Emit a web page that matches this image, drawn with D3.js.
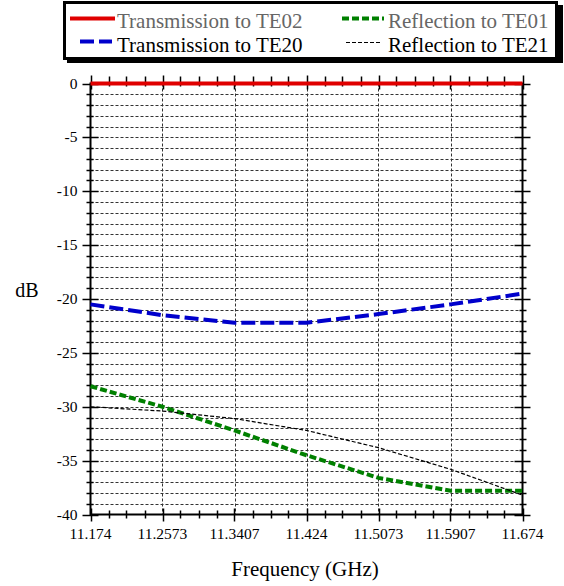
<!DOCTYPE html>
<html><head><meta charset="utf-8">
<script src="https://cdn.jsdelivr.net/npm/d3@7"></script>
<style>body{margin:0;background:#fff}svg{display:block}</style>
</head><body>
<script>
const freqs = [11.174, 11.2573, 11.3407, 11.424, 11.5073, 11.5907, 11.674];
const xTickLabels = ["11.174","11.2573","11.3407","11.424","11.5073","11.5907","11.674"];
const yTicks = [0,-5,-10,-15,-20,-25,-30,-35,-40];
const transTE02 = [0, 0, 0, 0, 0, 0, 0];
const transTE20 = [-20.5, -21.5, -22.2, -22.2, -21.4, -20.5, -19.5];
const reflTE01 = [-28.1, -30.0, -32.2, -34.5, -36.6, -37.8, -37.8];
const reflTE21 = [-30.0, -30.4, -31.1, -32.2, -33.8, -35.8, -38.2];
const seriesNames = ["Transmission to TE02","Reflection to TE01","Transmission to TE20","Reflection to TE21"];

const W=564,H=586;
const svg=d3.select("body").append("svg").attr("width",W).attr("height",H);
const x=d3.scaleLinear().domain([11.174,11.674]).range([90.5,522.5]);
const y=d3.scaleLinear().domain([-40,0]).range([514.5,83.5]);
const L=x.range()[0],R=x.range()[1],T=y.range()[1],B=y.range()[0];

// grid
const g=svg.append("g").attr("stroke","#333").attr("stroke-width",1).attr("stroke-dasharray","3,2");
for(let v=-39;v<=-1;v++){
  const yy=Math.round(y(v))+0.5;
  g.append("line").attr("x1",L).attr("x2",R).attr("y1",yy).attr("y2",yy);
}
freqs.slice(1,-1).forEach(f=>{
  const xx=Math.round(x(f))+0.5;
  g.append("line").attr("x1",xx).attr("x2",xx).attr("y1",T).attr("y2",B);
});

// frame
svg.append("rect").attr("x",L).attr("y",T).attr("width",R-L).attr("height",B-T)
  .attr("fill","none").attr("stroke","#000").attr("stroke-width",2);

// ticks
const tk=svg.append("g").attr("stroke","#000").attr("stroke-width",1.5);
for(let v=-40;v<=0;v++){
  const major=v%5===0, yy=Math.round(y(v))+0.5;
  tk.append("line").attr("x1",L-(major?8:4)).attr("x2",L+(major?8:3)).attr("y1",yy).attr("y2",yy);
  tk.append("line").attr("x1",R-(major?8:3)).attr("x2",R+(major?8:4)).attr("y1",yy).attr("y2",yy);
}
const step=(11.674-11.174)/24;
for(let i=0;i<=24;i++){
  const f=11.174+i*step, major=i%4===0, xx=Math.round(x(f))+0.5;
  tk.append("line").attr("x1",xx).attr("x2",xx).attr("y1",B-(major?6:4)).attr("y2",B+(major?7:4));
  tk.append("line").attr("x1",xx).attr("x2",xx).attr("y1",T-(major?8:7)).attr("y2",T+(major?6:3));
}

// tick labels
svg.append("g").selectAll("text").data(yTicks).join("text")
  .attr("x",77.5).attr("y",d=>y(d)+5).attr("text-anchor","end")
  .attr("font-size",15.5).text(d=>d);
svg.append("g").selectAll("text").data(freqs).join("text")
  .attr("x",d=>x(d)).attr("y",539).attr("text-anchor","middle")
  .attr("font-size",15.5).text((d,i)=>xTickLabels[i]);

svg.append("text").attr("x",305).attr("y",576).attr("text-anchor","middle")
  .attr("font-size",21).text("Frequency (GHz)");
svg.append("text").attr("x",27).attr("y",297).attr("text-anchor","middle")
  .attr("font-size",20).text("dB");

// lines
const line=d3.line().x((d,i)=>x(freqs[i])).y(d=>y(d));
const styles=[
  {data:transTE02,color:"#e00000",w:4,dash:null},
  {data:reflTE01,color:"#008000",w:4,dash:"7,3"},
  {data:transTE20,color:"#0000cc",w:4,dash:"14,5"},
  {data:reflTE21,color:"#000000",w:1.2,dash:"4,2"}
];
const plot=svg.append("g");
[styles[1],styles[2],styles[3],styles[0]].forEach(s=>{
  plot.append("path").datum(s.data).attr("d",line).attr("fill","none")
   .attr("stroke",s.color).attr("stroke-width",s.w).attr("stroke-dasharray",s.dash);
});

// legend
const lg=svg.append("g");
lg.append("rect").attr("x",67).attr("y",5).attr("width",496).attr("height",58).attr("fill","#000");
lg.append("rect").attr("x",64.5).attr("y",2.5).attr("width",492).attr("height",56).attr("fill","#fff").attr("stroke","#000").attr("stroke-width",3);
const items=[
  {s:styles[0],x1:70,x2:115,tx:117,ty:28,ly:18.5,c:"#666"},
  {s:styles[1],x1:342,x2:384,tx:388,ty:28,ly:18.5,c:"#666"},
  {s:styles[2],x1:80,x2:112,tx:117,ty:51.5,ly:41.5,c:"#000"},
  {s:styles[3],x1:346,x2:382,tx:388,ty:51.5,ly:42.5,c:"#000"}
];
items.forEach((it,i)=>{
  lg.append("line").attr("x1",it.x1).attr("x2",it.x2).attr("y1",it.ly).attr("y2",it.ly)
    .attr("stroke",it.s.color).attr("stroke-width",it.s.w).attr("stroke-dasharray",it.s.dash);
  lg.append("text").attr("x",it.tx).attr("y",it.ty).attr("font-size",21)
    .attr("fill",it.c).text(seriesNames[i]);
});
svg.selectAll("text").style("font-family","Liberation Serif");
</script>
</body></html>
